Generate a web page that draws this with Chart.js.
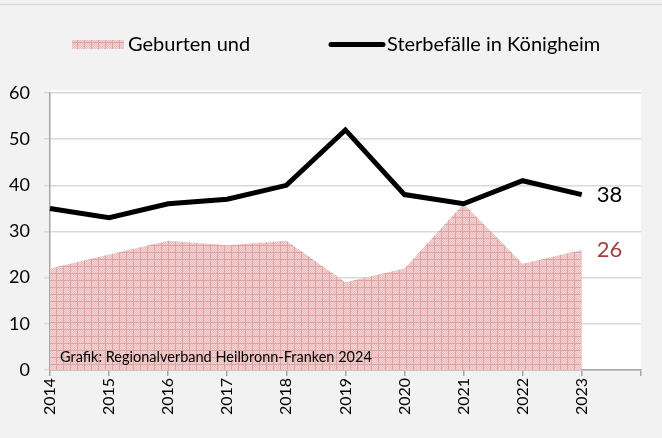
<!DOCTYPE html>
<html><head><meta charset="utf-8">
<script src="https://cdn.jsdelivr.net/npm/chart.js@4"></script>
<style>
html,body{margin:0;padding:0;background:#f2f2f2;}
#wrap{position:relative;width:662px;height:438px;}
canvas{display:block;}
</style></head><body>
<div id="wrap"><canvas id="c" width="662" height="438"></canvas></div>
<script>
const years = ['2014','2015','2016','2017','2018','2019','2020','2021','2022','2023'];
const births = [22, 25, 28, 27, 28, 19, 22, 36, 23, 26];
const deaths = [35, 33, 36, 37, 40, 52, 38, 36, 41, 38];
const yTicks = [0, 10, 20, 30, 40, 50, 60];
const legendLabels = ['Geburten und', 'Sterbefälle in Königheim'];
const sourceText = 'Grafik: Regionalverband Heilbronn-Franken 2024';

const FONT = 'Lato, "Open Sans", sans-serif';

function makePattern(){
  const p = document.createElement('canvas');
  p.width = 7; p.height = 7;
  const g = p.getContext('2d');
  g.fillStyle = '#f5d6d6'; g.fillRect(0,0,7,7);
  g.fillStyle = '#ebbcbc';
  for(let y=0;y<7;y++) for(let x=0;x<7;x++) if((x+y)%2===0) g.fillRect(x,y,1,1);
  g.fillStyle = '#e0a3a3';
  g.fillRect(0,0,7,1); g.fillRect(0,0,1,7);
  return g.createPattern(p,'repeat');
}
const ctx0 = document.getElementById('c').getContext('2d');
const pattern = makePattern();

const decor = {
  id:'decor',
  beforeDraw(chart){
    const {ctx, chartArea:a} = chart;
    ctx.save();
    ctx.fillStyle = '#f2f2f2';
    ctx.fillRect(0,0,chart.width,chart.height);
    ctx.strokeStyle = '#d9d9d9'; ctx.lineWidth = 1.5;
    ctx.beginPath(); ctx.moveTo(0,4.5); ctx.lineTo(chart.width,4.5); ctx.stroke();
    ctx.fillStyle = '#ffffff';
    ctx.fillRect(a.left, a.top-3, a.right-a.left, a.bottom-a.top+3);
    // legend
    ctx.fillStyle = pattern;
    ctx.fillRect(72, 40, 52, 9);
    ctx.strokeStyle = '#000'; ctx.lineWidth = 5; ctx.lineCap = 'round';
    ctx.beginPath(); ctx.moveTo(331, 44.5); ctx.lineTo(383, 44.5); ctx.stroke();
    ctx.fillStyle = '#000'; ctx.font = '20px ' + FONT; ctx.textBaseline = 'middle'; ctx.textAlign='left';
    ctx.fillText(legendLabels[0], 128, 45);
    ctx.fillText(legendLabels[1], 387, 45);
    ctx.restore();
  },
  afterDatasetsDraw(chart){
    const {ctx} = chart;
    const xs = chart.scales.x, ys = chart.scales.y;
    const last = years.length - 1;
    const x = xs.getPixelForValue(last) + 15;
    ctx.save();
    ctx.font = '22px ' + FONT; ctx.textBaseline = 'middle'; ctx.textAlign = 'left';
    ctx.fillStyle = '#000';
    ctx.fillText(String(deaths[last]), x, ys.getPixelForValue(deaths[last]));
    ctx.fillStyle = '#a5403e';
    ctx.fillText(String(births[last]), x, ys.getPixelForValue(births[last]));
    ctx.fillStyle = '#000'; ctx.font = '14.5px ' + FONT; ctx.textBaseline = 'alphabetic';
    ctx.fillText(sourceText, chart.chartArea.left + 10, chart.chartArea.bottom - 8);
    ctx.restore();
  }
};

new Chart(ctx0, {
  type:'line',
  data:{
    labels: years.concat(['']),
    datasets:[
      {label:legendLabels[1], data:deaths, borderColor:'#000', borderWidth:5, pointRadius:0, fill:false, tension:0, order:1, borderJoinStyle:'miter'},
      {label:legendLabels[0], data:births, borderWidth:0, borderColor:'rgba(0,0,0,0)', backgroundColor:pattern, pointRadius:0, fill:'origin', tension:0, order:2}
    ]
  },
  options:{
    responsive:false, animation:false,
    layout:{padding:{top:93, right:17, left:0, bottom:0}},
    plugins:{legend:{display:false}, tooltip:{enabled:false}},
    scales:{
      x:{
        offset:false,
        grid:{drawOnChartArea:false, drawTicks:true, tickLength:6, color:'#a6a6a6', lineWidth:1.5},
        border:{color:'#a6a6a6', width:1.5},
        ticks:{color:'#000', font:{size:16, family:FONT}, minRotation:90, maxRotation:90, autoSkip:false, padding:2},
        afterFit(s){ s.height = 68; }
      },
      y:{
        min:0, max:60,
        afterBuildTicks(s){ s.ticks = yTicks.map(v=>({value:v})); },
        grid:{color:'#d9d9d9', lineWidth:1.5, drawTicks:true, tickLength:6},
        border:{color:'#a6a6a6', width:1.5},
        ticks:{color:'#000', font:{size:18, family:FONT}, padding:14},
        afterFit(s){ s.width = 50; }
      }
    }
  },
  plugins:[decor]
});
</script>
</body></html>
